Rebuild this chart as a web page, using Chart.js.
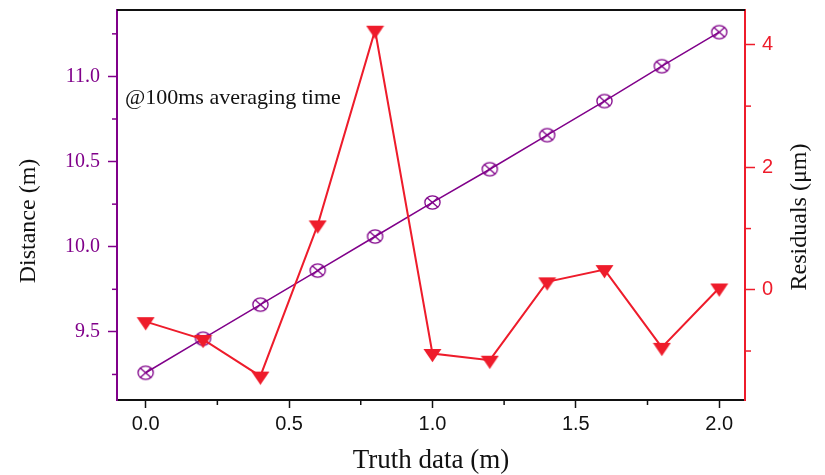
<!DOCTYPE html>
<html>
<head>
<meta charset="utf-8">
<title>Distance and residuals vs truth data</title>
<script src="https://cdn.jsdelivr.net/npm/chart.js@4.4.1/dist/chart.umd.min.js"></script>
<style>
  html, body { margin: 0; padding: 0; background: #fff; }
  #wrap { width: 825px; height: 475px; }
</style>
</head>
<body>
<div id="wrap"><canvas id="myChart" width="825" height="475"></canvas></div>
<script>
// values
const truthData = [0.0, 0.2, 0.4, 0.6, 0.8, 1.0, 1.2, 1.4, 1.6, 1.8, 2.0];
const distance = [9.26, 9.46, 9.66, 9.86, 10.06, 10.26, 10.455, 10.655, 10.855, 11.06, 11.26];
const residuals = [-0.52, -0.81, -1.41, 1.06, 4.24, -1.04, -1.15, 0.13, 0.33, -0.94, 0.03];

// labelled ticks (the others are minor ticks)
const truthTicks = [0.0, 0.5, 1.0, 1.5, 2.0];
const distanceTicks = [9.5, 10.0, 10.5, 11.0];
const residualTicks = [0, 2, 4];

const PURPLE = "#80008a";
const RED = "#ee1c2b";

function inList(list, v) {
  return list.some((t) => Math.abs(t - v) < 1e-6);
}

// circle with an x inside
function makeCircleX(color) {
  const c = document.createElement("canvas");
  c.width = 19;
  c.height = 17;
  const g = c.getContext("2d");
  g.strokeStyle = color;
  g.lineWidth = 1.3;
  g.beginPath();
  g.ellipse(9.5, 8.5, 7.6, 6.6, 0, 0, Math.PI * 2);
  g.stroke();
  g.beginPath();
  g.moveTo(9.5 - 5.4, 8.5 - 4.7);
  g.lineTo(9.5 + 5.4, 8.5 + 4.7);
  g.moveTo(9.5 + 5.4, 8.5 - 4.7);
  g.lineTo(9.5 - 5.4, 8.5 + 4.7);
  g.stroke();
  return c;
}

// filled down triangle, centroid in the middle of the canvas
function makeTriangle(color) {
  const c = document.createElement("canvas");
  c.width = 19;
  c.height = 19;
  const g = c.getContext("2d");
  g.fillStyle = color;
  g.beginPath();
  g.moveTo(0.5, 9.5 - 4.4);
  g.lineTo(18.5, 9.5 - 4.4);
  g.lineTo(9.5, 9.5 + 8.7);
  g.closePath();
  g.fill();
  return c;
}

const extras = {
  id: "extras",
  beforeDatasetsDraw(chart) {
    const ctx = chart.ctx;
    const area = chart.chartArea;
    ctx.save();
    ctx.fillStyle = "#111";
    ctx.font = "22px 'Liberation Serif'";
    ctx.textAlign = "left";
    ctx.textBaseline = "alphabetic";
    ctx.fillText("@100ms averaging time", area.left + 8, area.top + 94);
    ctx.restore();
  },
  afterDraw(chart) {
    const ctx = chart.ctx;
    const area = chart.chartArea;
    ctx.save();

    // top frame line
    ctx.strokeStyle = "#111";
    ctx.lineWidth = 2;
    ctx.beginPath();
    ctx.moveTo(area.left, area.top);
    ctx.lineTo(area.right, area.top);
    ctx.stroke();

    // minor ticks
    ctx.lineWidth = 1.5;
    chart.scales.x.ticks.forEach((t) => {
      if (inList(truthTicks, t.value)) return;
      const px = chart.scales.x.getPixelForValue(t.value);
      ctx.strokeStyle = "#111";
      ctx.beginPath();
      ctx.moveTo(px, area.bottom);
      ctx.lineTo(px, area.bottom + 5);
      ctx.stroke();
    });
    chart.scales.y.ticks.forEach((t) => {
      if (inList(distanceTicks, t.value)) return;
      const py = chart.scales.y.getPixelForValue(t.value);
      ctx.strokeStyle = PURPLE;
      ctx.beginPath();
      ctx.moveTo(area.left - 5, py);
      ctx.lineTo(area.left, py);
      ctx.stroke();
    });
    chart.scales.y2.ticks.forEach((t) => {
      if (inList(residualTicks, t.value)) return;
      const py = chart.scales.y2.getPixelForValue(t.value);
      ctx.strokeStyle = RED;
      ctx.beginPath();
      ctx.moveTo(area.right, py);
      ctx.lineTo(area.right + 6, py);
      ctx.stroke();
    });

    // vertical axis titles, both read bottom to top
    ctx.fillStyle = "#111";
    ctx.font = "24px 'Liberation Serif'";
    ctx.textAlign = "center";
    ctx.textBaseline = "middle";
    ctx.translate(29, 221);
    ctx.rotate(-Math.PI / 2);
    ctx.fillText("Distance (m)", 0, 0);
    ctx.setTransform(1, 0, 0, 1, 0, 0);
    ctx.translate(area.right + 55, 217);
    ctx.rotate(-Math.PI / 2);
    ctx.fillText("Residuals (\u03bcm)", 0, 0);
    ctx.restore();
  },
};

document.addEventListener("DOMContentLoaded", function () {
  const ctx = document.getElementById("myChart").getContext("2d");

  new Chart(ctx, {
    type: "line",
    data: {
      datasets: [
        {
          label: "Residuals",
          data: truthData.map((x, i) => ({ x: x, y: residuals[i] })),
          yAxisID: "y2",
          borderColor: RED,
          borderWidth: 2,
          pointStyle: makeTriangle(RED),
          pointRadius: 8,
          tension: 0,
          order: 0,
        },
        {
          label: "Distance",
          data: truthData.map((x, i) => ({ x: x, y: distance[i] })),
          yAxisID: "y",
          borderColor: PURPLE,
          borderWidth: 1.5,
          pointStyle: makeCircleX(PURPLE),
          pointRadius: 8,
          tension: 0,
          order: 1,
        },
      ],
    },
    options: {
      responsive: false,
      animation: false,
      devicePixelRatio: 1,
      layout: { padding: { top: 9, left: 0, right: 0, bottom: 0 } },
      plugins: {
        legend: { display: false },
        tooltip: { enabled: false },
      },
      scales: {
        x: {
          type: "linear",
          position: "bottom",
          min: -0.1,
          max: 2.09,
          afterFit: (scale) => {
            scale.height = 75;
            scale.paddingLeft = 0;
            scale.paddingRight = 0;
          },
          border: { color: "#111", width: 2 },
          grid: {
            drawOnChartArea: false,
            tickLength: 8,
            tickWidth: 1.5,
            tickColor: (c) => (c.tick && inList(truthTicks, c.tick.value) ? "#111" : "rgba(0,0,0,0)"),
          },
          ticks: {
            stepSize: 0.25,
            includeBounds: false,
            autoSkip: false,
            maxRotation: 0,
            padding: 4,
            color: "#111",
            font: { family: "'Liberation Sans'", size: 20 },
            callback: (v) => (inList(truthTicks, v) ? v.toFixed(1) : ""),
          },
          title: {
            display: true,
            text: "Truth data (m)",
            color: "#111",
            font: { family: "'Liberation Serif'", size: 27 },
            padding: { top: 0, bottom: -2 },
          },
        },
        y: {
          type: "linear",
          position: "left",
          min: 9.1,
          max: 11.39,
          afterFit: (scale) => {
            scale.width = 117;
            scale.paddingTop = 0;
            scale.paddingBottom = 0;
          },
          border: { color: PURPLE, width: 2 },
          grid: {
            drawOnChartArea: false,
            tickLength: 9,
            tickWidth: 1.5,
            tickColor: (c) => (c.tick && inList(distanceTicks, c.tick.value) ? PURPLE : "rgba(0,0,0,0)"),
          },
          ticks: {
            stepSize: 0.25,
            includeBounds: false,
            autoSkip: false,
            padding: 8,
            color: PURPLE,
            font: { family: "'Liberation Serif'", size: 20 },
            callback: (v) => (inList(distanceTicks, v) ? v.toFixed(1) : ""),
          },
        },
        y2: {
          type: "linear",
          position: "right",
          min: -1.8,
          max: 4.57,
          afterFit: (scale) => {
            scale.width = 80;
            scale.paddingTop = 0;
            scale.paddingBottom = 0;
          },
          border: { color: RED, width: 2 },
          grid: {
            drawOnChartArea: false,
            tickLength: 10,
            tickWidth: 1.5,
            tickColor: (c) => (c.tick && inList(residualTicks, c.tick.value) ? RED : "rgba(0,0,0,0)"),
          },
          ticks: {
            stepSize: 1,
            includeBounds: false,
            autoSkip: false,
            padding: 7,
            color: RED,
            font: { family: "'Liberation Sans'", size: 20 },
            callback: (v) => (inList(residualTicks, v) ? String(v) : ""),
          },
        },
      },
    },
    plugins: [extras],
  });
});
</script>
</body>
</html>
